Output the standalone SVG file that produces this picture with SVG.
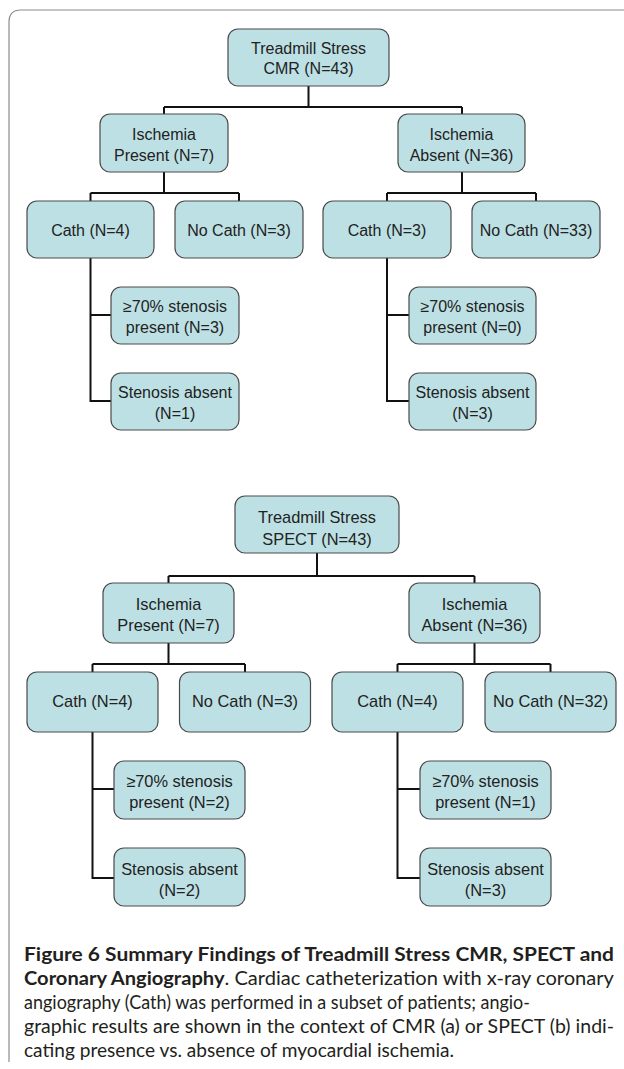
<svg xmlns="http://www.w3.org/2000/svg" width="624" height="1069" viewBox="0 0 624 1069">
<style>
.box{fill:#bde0e4;stroke:#4a4a4a;stroke-width:1.2}
.t{font-family:"Liberation Sans",Arial,sans-serif;font-size:16px;fill:#222;text-anchor:middle}
.t2{font-family:"Liberation Sans",Arial,sans-serif;font-size:16.4px;fill:#222;text-anchor:middle}
.c{fill:none;stroke:#111;stroke-width:2}
.cap{font-family:Lato,"Open Sans",sans-serif;font-size:18.5px;fill:#231f20}
.b{font-weight:bold}
</style>
<rect width="624" height="1069" fill="#fff"/>
<path d="M9 1062 V22 Q9 10 21 10 H624" fill="none" stroke="#8c8c8c" stroke-width="1.2"/>
<g id="connectors">
<path class="c" d="M308.5 86 V107 M164 107 H462 M164 107 V114 M462 107 V114"/>
<path class="c" d="M164 172 V193 M90.5 193 H239 M90.5 193 V201 M239 193 V201"/>
<path class="c" d="M462 172 V193 M387 193 H536 M387 193 V201 M536 193 V201"/>
<path class="c" d="M90.5 258 V401 H111 M90.5 315 H111"/>
<path class="c" d="M387 258 V401 H409 M387 315 H409"/>
<path class="c" d="M317 553 V576 M168.5 576 H474.5 M168.5 576 V583 M474.5 576 V583"/>
<path class="c" d="M168.5 643 V664 M92.5 664 H245 M92.5 664 V672 M245 664 V672"/>
<path class="c" d="M474.5 643 V664 M397.5 664 H550.5 M397.5 664 V672 M550.5 664 V672"/>
<path class="c" d="M92.5 732 V878 H114 M92.5 789 H114"/>
<path class="c" d="M397.5 732 V878 H420 M397.5 789 H420"/>
</g>
<g id="cmr-root"><rect class="box" x="228" y="29" width="161" height="57" rx="10"/><text class="t" x="308.5" y="53.5">Treadmill Stress</text><text class="t" x="308.5" y="74">CMR (N=43)</text></g>
<g id="cmr-present"><rect class="box" x="100" y="114" width="128" height="58" rx="10"/><text class="t" x="164" y="140">Ischemia</text><text class="t" x="164" y="160.5">Present (N=7)</text></g>
<g id="cmr-absent"><rect class="box" x="398" y="114" width="127" height="58" rx="10"/><text class="t" x="461.5" y="140">Ischemia</text><text class="t" x="461.5" y="160.5">Absent (N=36)</text></g>
<g id="cmr-p-cath"><rect class="box" x="27" y="201" width="127" height="57" rx="10"/><text class="t" x="90.5" y="236">Cath (N=4)</text></g>
<g id="cmr-p-nocath"><rect class="box" x="175" y="201" width="128" height="57" rx="10"/><text class="t" x="239" y="236">No Cath (N=3)</text></g>
<g id="cmr-a-cath"><rect class="box" x="323" y="201" width="128" height="57" rx="10"/><text class="t" x="387" y="236">Cath (N=3)</text></g>
<g id="cmr-a-nocath"><rect class="box" x="472" y="201" width="128" height="57" rx="10"/><text class="t" x="536" y="236">No Cath (N=33)</text></g>
<g id="cmr-p-sten"><rect class="box" x="111" y="287" width="128" height="57" rx="10"/><text class="t" x="175" y="312">≥70% stenosis</text><text class="t" x="175" y="333">present (N=3)</text></g>
<g id="cmr-p-nosten"><rect class="box" x="111" y="373" width="128" height="57" rx="10"/><text class="t" x="175" y="398">Stenosis absent</text><text class="t" x="175" y="419">(N=1)</text></g>
<g id="cmr-a-sten"><rect class="box" x="409" y="287" width="127" height="57" rx="10"/><text class="t" x="472.5" y="312">≥70% stenosis</text><text class="t" x="472.5" y="333">present (N=0)</text></g>
<g id="cmr-a-nosten"><rect class="box" x="409" y="373" width="127" height="57" rx="10"/><text class="t" x="472.5" y="398">Stenosis absent</text><text class="t" x="472.5" y="419">(N=3)</text></g>
<g id="spect-root"><rect class="box" x="235" y="496" width="164" height="57" rx="10"/><text class="t2" x="317" y="522.5">Treadmill Stress</text><text class="t2" x="317" y="545">SPECT (N=43)</text></g>
<g id="spect-present"><rect class="box" x="103" y="583" width="131" height="60" rx="10"/><text class="t2" x="168.5" y="610">Ischemia</text><text class="t2" x="168.5" y="631">Present (N=7)</text></g>
<g id="spect-absent"><rect class="box" x="409" y="583" width="131" height="60" rx="10"/><text class="t2" x="474.5" y="610">Ischemia</text><text class="t2" x="474.5" y="631">Absent (N=36)</text></g>
<g id="spect-p-cath"><rect class="box" x="27" y="672" width="131" height="60" rx="10"/><text class="t2" x="92.5" y="707">Cath (N=4)</text></g>
<g id="spect-p-nocath"><rect class="box" x="179.5" y="672" width="131" height="60" rx="10"/><text class="t2" x="245" y="707">No Cath (N=3)</text></g>
<g id="spect-a-cath"><rect class="box" x="332" y="672" width="131" height="60" rx="10"/><text class="t2" x="397.5" y="707">Cath (N=4)</text></g>
<g id="spect-a-nocath"><rect class="box" x="485" y="672" width="131" height="60" rx="10"/><text class="t2" x="550.5" y="707">No Cath (N=32)</text></g>
<g id="spect-p-sten"><rect class="box" x="114" y="761" width="131" height="58" rx="10"/><text class="t2" x="179.5" y="787">≥70% stenosis</text><text class="t2" x="179.5" y="808">present (N=2)</text></g>
<g id="spect-p-nosten"><rect class="box" x="114" y="848" width="131" height="58" rx="10"/><text class="t2" x="179.5" y="875">Stenosis absent</text><text class="t2" x="179.5" y="896">(N=2)</text></g>
<g id="spect-a-sten"><rect class="box" x="420" y="761" width="131" height="58" rx="10"/><text class="t2" x="485.5" y="787">≥70% stenosis</text><text class="t2" x="485.5" y="808">present (N=1)</text></g>
<g id="spect-a-nosten"><rect class="box" x="420" y="848" width="131" height="58" rx="10"/><text class="t2" x="485.5" y="875">Stenosis absent</text><text class="t2" x="485.5" y="896">(N=3)</text></g>
<g id="caption">
<text class="cap b" x="24" y="961" textLength="590" lengthAdjust="spacingAndGlyphs">Figure 6 Summary Findings of Treadmill Stress CMR, SPECT and</text>
<text class="cap" x="24" y="985" textLength="590" lengthAdjust="spacingAndGlyphs"><tspan class="b">Coronary Angiography</tspan>. Cardiac catheterization with x-ray coronary</text>
<text class="cap" x="24" y="1009" textLength="506" lengthAdjust="spacingAndGlyphs">angiography (Cath) was performed in a subset of patients; angio-</text>
<text class="cap" x="24" y="1033" textLength="590" lengthAdjust="spacingAndGlyphs">graphic results are shown in the context of CMR (a) or SPECT (b) indi-</text>
<text class="cap" x="24" y="1057" textLength="430" lengthAdjust="spacingAndGlyphs">cating presence vs. absence of myocardial ischemia.</text>
</g>
</svg>
